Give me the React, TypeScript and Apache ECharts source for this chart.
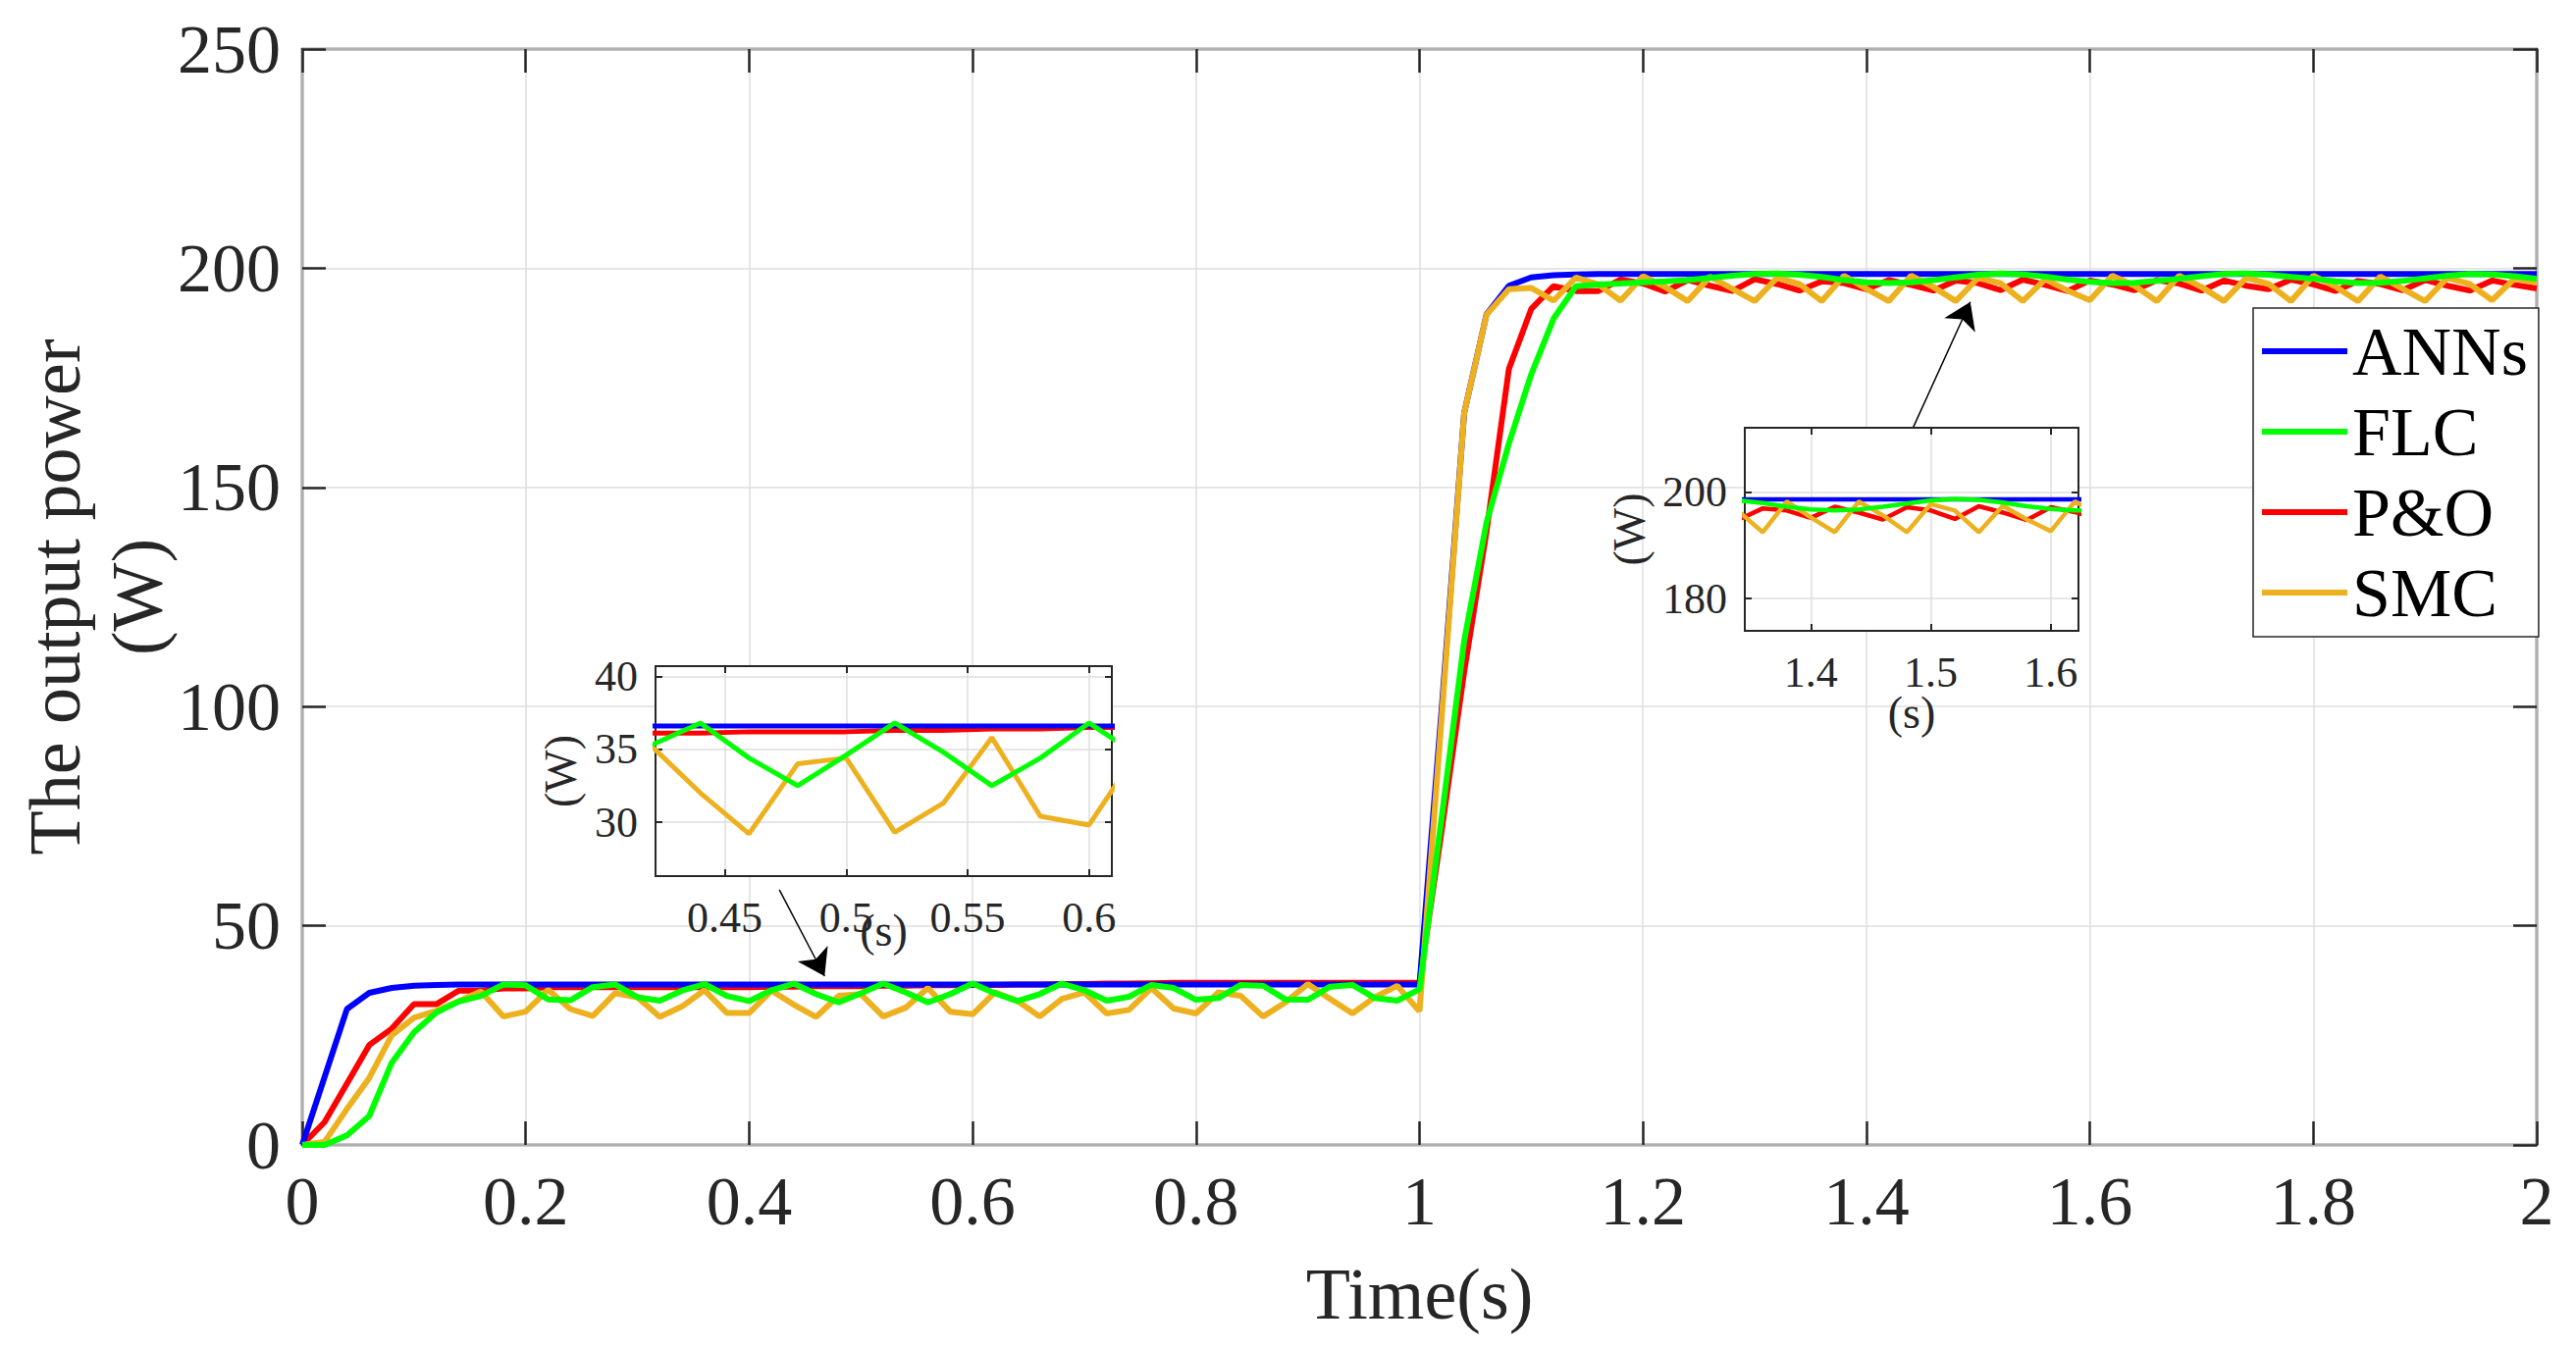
import { useEffect, useRef } from 'react'
import * as echarts from 'echarts'

const FONT = '"Liberation Serif", "Times New Roman", Times, serif'
const INK = '#262626'
const GRID_LINE = '#dedede'

const seriesNames = ['ANNs', 'FLC', 'P&O', 'SMC']
const seriesColors = ['#0000ff', '#00ff00', '#ff0000', '#edb120']
const seriesZ = [3, 5, 2, 4]

// sample times (s), 0.02 s step
const times = [
  0, 0.02, 0.04, 0.06, 0.08, 0.1, 0.12, 0.14, 0.16, 0.18,
  0.2, 0.22, 0.24, 0.26, 0.28, 0.3, 0.32, 0.34, 0.36, 0.38,
  0.4, 0.42, 0.44, 0.46, 0.48, 0.5, 0.52, 0.54, 0.56, 0.58,
  0.6, 0.62, 0.64, 0.66, 0.68, 0.7, 0.72, 0.74, 0.76, 0.78,
  0.8, 0.82, 0.84, 0.86, 0.88, 0.9, 0.92, 0.94, 0.96, 0.98,
  1, 1.02, 1.04, 1.06, 1.08, 1.1, 1.12, 1.14, 1.16, 1.18,
  1.2, 1.22, 1.24, 1.26, 1.28, 1.3, 1.32, 1.34, 1.36, 1.38,
  1.4, 1.42, 1.44, 1.46, 1.48, 1.5, 1.52, 1.54, 1.56, 1.58,
  1.6, 1.62, 1.64, 1.66, 1.68, 1.7, 1.72, 1.74, 1.76, 1.78,
  1.8, 1.82, 1.84, 1.86, 1.88, 1.9, 1.92, 1.94, 1.96, 1.98,
  2,
]

const annPower = [
  0, 15.5, 31.0, 34.7, 35.8, 36.3, 36.5, 36.6, 36.6, 36.6,
  36.6, 36.6, 36.6, 36.6, 36.6, 36.6, 36.6, 36.6, 36.6, 36.6,
  36.6, 36.6, 36.6, 36.6, 36.6, 36.6, 36.6, 36.6, 36.6, 36.6,
  36.6, 36.6, 36.6, 36.6, 36.6, 36.6, 36.6, 36.6, 36.6, 36.6,
  36.6, 36.6, 36.6, 36.6, 36.6, 36.6, 36.6, 36.6, 36.6, 36.6,
  36.6, 100, 167, 189.5, 196, 197.9, 198.4, 198.6, 198.7, 198.7,
  198.7, 198.7, 198.7, 198.7, 198.7, 198.7, 198.7, 198.7, 198.7, 198.7,
  198.7, 198.7, 198.7, 198.7, 198.7, 198.7, 198.7, 198.7, 198.7, 198.7,
  198.7, 198.7, 198.7, 198.7, 198.7, 198.7, 198.7, 198.7, 198.7, 198.7,
  198.7, 198.7, 198.7, 198.7, 198.7, 198.7, 198.7, 198.7, 198.7, 198.7,
  198.7,
]

const flcPower = [
  0, 0, 2.2, 6.6, 18.7, 25.7, 30.2, 32.7, 34.0, 36.6,
  36.4, 33.2, 33.0, 36.0, 36.6, 33.7, 32.9, 35.2, 36.7, 34.0,
  32.8, 35.3, 36.8, 34.4, 32.5, 34.6, 36.8, 34.8, 32.5, 34.4,
  36.8, 34.6, 32.8, 34.4, 36.8, 35.3, 32.9, 33.8, 36.5, 35.8,
  33.1, 33.5, 36.5, 36.3, 33.2, 33.1, 36.1, 36.5, 33.5, 32.9,
  35.5, 75, 115, 142, 160, 175.8, 188.5, 195.9, 196.3, 196.5,
  196.8, 197.0, 197.3, 197.8, 198.3, 198.7, 198.8, 198.5, 198.0, 197.3,
  196.8, 196.6, 196.8, 197.3, 197.9, 198.5, 198.8, 198.6, 198.1, 197.4,
  196.9, 196.6, 196.7, 197.1, 197.6, 198.2, 198.7, 198.8, 198.5, 198.0,
  197.6, 197.0, 196.6, 196.7, 197.1, 197.7, 198.3, 198.7, 198.6, 198.2,
  197.6,
]

const poPower = [
  0, 5.2, 14.0, 22.8, 26.5, 32.1, 32.1, 35.2, 35.2, 35.7,
  35.7, 36.0, 36.0, 36.0, 36.0, 36.0, 36.0, 36.0, 36.0, 36.0,
  36.0, 36.1, 36.1, 36.2, 36.2, 36.2, 36.3, 36.3, 36.4, 36.4,
  36.5, 36.5, 36.6, 36.6, 36.7, 36.7, 36.8, 36.8, 36.9, 37.0,
  37.0, 37.0, 37.0, 37.0, 37.0, 37.0, 37.0, 37.0, 37.0, 37.0,
  37.0, 72, 108, 140, 177, 190.7, 195.9, 194.8, 194.8, 197.4,
  196.5, 194.7, 197.3, 196.0, 194.8, 197.5, 196.4, 194.9, 197.0, 196.6,
  195.2, 197.3, 196.2, 194.9, 197.2, 196.6, 195.0, 197.4, 196.2, 194.8,
  197.2, 196.3, 195.0, 197.3, 196.5, 194.9, 197.2, 196.0, 195.2, 197.4,
  196.3, 194.8, 197.1, 196.4, 195.0, 197.3, 196.0, 194.9, 197.2, 196.2,
  195.4,
]

const smcPower = [
  0, 0.7, 8.2, 15.3, 25.0, 29.0, 30.6, 32.8, 35.0, 29.3,
  30.4, 35.4, 31.0, 29.4, 34.6, 33.7, 29.2, 31.6, 35.3, 30.1,
  30.1, 35.2, 32.0, 29.2, 34.0, 34.4, 29.3, 31.3, 35.8, 30.4,
  29.8, 34.8, 32.9, 29.3, 33.3, 34.8, 30.0, 30.8, 35.8, 31.1,
  30.0, 34.8, 34.0, 29.3, 32.5, 36.7, 33.3, 30.0, 33.7, 36.3,
  30.5, 98, 167, 189.4, 195.2, 195.5, 192.6, 197.9, 196.3, 192.6,
  198.2, 195.7, 192.5, 198.1, 195.3, 192.5, 197.8, 196.4, 192.5, 198.3,
  195.3, 192.5, 198.3, 195.7, 192.5, 197.8, 196.6, 192.5, 197.5, 194.9,
  192.7, 198.3, 196.0, 192.5, 198.3, 195.7, 192.5, 197.8, 196.4, 192.5,
  198.3, 195.8, 192.5, 198.1, 195.3, 192.5, 197.8, 196.4, 192.7, 197.6,
  196.8,
]

const allPower = [annPower, flcPower, poPower, smcPower]

// inset windows
const inset1X = [0.4215, 0.6094]
const inset1Y = [26.3, 40.7]
const inset1XTicks = [0.45, 0.5, 0.55, 0.6]
const inset1YTicks = [30, 35, 40]
const inset2X = [1.345, 1.623]
const inset2Y = [173.9, 212.2]
const inset2XTicks = [1.4, 1.5, 1.6]
const inset2YTicks = [180, 200]

// arrows pointing from the insets to the zoomed region (data coords)
const arrows = [
  [[0.427, 58.2], [0.4675, 38.5]],
  [[1.441, 163.2], [1.493, 192.3]],
]

const fmt = (v: number) => String(parseFloat(v.toFixed(2)))

function insetAxes(g: number, xr: number[], yr: number[], xt: number[], yt: number[], xGap: number, yGap: number) {
  const tick = { show: true, inside: true, length: 7, lineStyle: { color: INK, width: 2 } }
  const label = { fontSize: 44, color: INK, fontFamily: FONT }
  const split = { show: true, lineStyle: { color: GRID_LINE, width: 1.5 } }
  const nameStyle = { fontSize: 46, color: INK, fontFamily: FONT }
  const xs = [
    {
      type: 'value', gridIndex: g, min: xr[0], max: xr[1], position: 'bottom', z: 7,
      axisLine: { show: false, onZero: false },
      axisTick: { ...tick, customValues: xt },
      axisLabel: { ...label, margin: 20, customValues: xt, formatter: fmt },
      splitLine: split,
      name: '(s)', nameLocation: 'middle', nameGap: xGap, nameTextStyle: nameStyle, nameMoveOverlap: false,
    },
    {
      type: 'value', gridIndex: g, min: xr[0], max: xr[1], position: 'top', z: 7,
      axisLine: { show: false, onZero: false },
      axisTick: { ...tick, customValues: xt },
      axisLabel: { show: false },
      splitLine: { show: false },
    },
  ]
  const ys = [
    {
      type: 'value', gridIndex: g, min: yr[0], max: yr[1], position: 'left', z: 7,
      axisLine: { show: false, onZero: false },
      axisTick: { ...tick, customValues: yt },
      axisLabel: { ...label, margin: 18, customValues: yt },
      splitLine: split,
      name: '(W)', nameLocation: 'middle', nameGap: yGap, nameTextStyle: nameStyle, nameMoveOverlap: false,
    },
    {
      type: 'value', gridIndex: g, min: yr[0], max: yr[1], position: 'right', z: 7,
      axisLine: { show: false, onZero: false },
      axisTick: { ...tick, customValues: yt },
      axisLabel: { show: false },
      splitLine: { show: false },
    },
  ]
  return { xs, ys }
}

export default function App() {
  const chartRef = useRef<HTMLDivElement>(null)

  useEffect(() => {
    if (!chartRef.current) return
    const chart = echarts.init(chartRef.current, undefined, { renderer: 'svg' })

    const mainTick = { show: true, inside: true, length: 24, lineStyle: { color: INK, width: 2.5 } }
    const mainLabel = { fontSize: 70, color: INK, fontFamily: FONT, margin: 22 }
    const nameStyle = { fontSize: 74, color: INK, fontFamily: FONT, lineHeight: 84 }

    const in1 = insetAxes(1, inset1X, inset1Y, inset1XTicks, inset1YTicks, 32, 74)
    const in2 = insetAxes(2, inset2X, inset2Y, inset2XTicks, inset2YTicks, 60, 95)

    const makeSeries = (xi: number, yi: number, width: number, zBase: number) =>
      seriesNames.map((name, k) => ({
        name,
        type: 'line',
        xAxisIndex: xi,
        yAxisIndex: yi,
        data: times.map((t, i) => [t, allPower[k][i]]),
        symbol: 'none',
        silent: true,
        clip: true,
        z: zBase + seriesZ[k],
        itemStyle: { color: seriesColors[k] },
        lineStyle: { color: seriesColors[k], width },
      }))

    const mainSeries: any[] = makeSeries(0, 0, 6, 0)
    mainSeries[0].markLine = {
      silent: true,
      symbol: ['none', 'arrow'],
      symbolSize: 26,
      label: { show: false },
      lineStyle: { color: '#000', width: 1.5, type: 'solid' },
      data: arrows.map(([a, b]) => [{ coord: a }, { coord: b }]),
    }

    const option = {
      animation: false,
      backgroundColor: '#fff',
      textStyle: { fontFamily: FONT },
      grid: [
        { left: 308, top: 50, width: 2277, height: 1117, show: true, borderColor: INK, borderWidth: 2.5, backgroundColor: 'transparent', containLabel: false, outerBoundsMode: 'none' },
        { left: 668, top: 679, width: 465, height: 214, show: true, borderColor: INK, borderWidth: 2, backgroundColor: '#fff', z: 6, containLabel: false, outerBoundsMode: 'none' },
        { left: 1778, top: 436, width: 340, height: 207, show: true, borderColor: INK, borderWidth: 2, backgroundColor: '#fff', z: 6, containLabel: false, outerBoundsMode: 'none' },
      ],
      legend: {
        orient: 'vertical',
        left: 2296,
        top: 314,
        icon: 'rect',
        itemWidth: 87,
        itemHeight: 6,
        itemGap: 12,
        padding: [9, 11, 10, 9],
        borderColor: INK,
        borderWidth: 1.5,
        backgroundColor: '#fff',
        selectedMode: false,
        z: 12,
        textStyle: { fontSize: 70, color: '#000', fontFamily: FONT },
        data: seriesNames,
      },
      xAxis: [
        {
          type: 'value', gridIndex: 0, min: 0, max: 2, interval: 0.2, position: 'bottom',
          axisLine: { show: false, onZero: false },
          axisTick: mainTick,
          axisLabel: { ...mainLabel, formatter: fmt },
          splitLine: { show: true, lineStyle: { color: GRID_LINE, width: 1.5 } },
          name: 'Time(s)', nameLocation: 'middle', nameGap: 110, nameTextStyle: nameStyle, nameMoveOverlap: false,
        },
        {
          type: 'value', gridIndex: 0, min: 0, max: 2, interval: 0.2, position: 'top',
          axisLine: { show: false, onZero: false },
          axisTick: mainTick,
          axisLabel: { show: false },
          splitLine: { show: false },
        },
        ...in1.xs,
        ...in2.xs,
      ],
      yAxis: [
        {
          type: 'value', gridIndex: 0, min: 0, max: 250, interval: 50, position: 'left',
          axisLine: { show: false, onZero: false },
          axisTick: mainTick,
          axisLabel: mainLabel,
          splitLine: { show: true, lineStyle: { color: GRID_LINE, width: 1.5 } },
          name: 'The output power\n(W)', nameLocation: 'middle', nameGap: 126, nameTextStyle: nameStyle, nameMoveOverlap: false,
        },
        {
          type: 'value', gridIndex: 0, min: 0, max: 250, interval: 50, position: 'right',
          axisLine: { show: false, onZero: false },
          axisTick: mainTick,
          axisLabel: { show: false },
          splitLine: { show: false },
        },
        ...in1.ys,
        ...in2.ys,
      ],
      series: [
        ...mainSeries,
        ...makeSeries(2, 2, 5, 8),
        ...makeSeries(4, 4, 4.5, 8),
      ],
    }

    chart.setOption(option as any)

    return () => {
      chart.dispose()
    }
  }, [])

  return (
    <div
      ref={chartRef}
      style={{ position: 'absolute', left: 0, top: 0, width: '2625px', height: '1374px', background: '#fff' }}
    />
  )
}
